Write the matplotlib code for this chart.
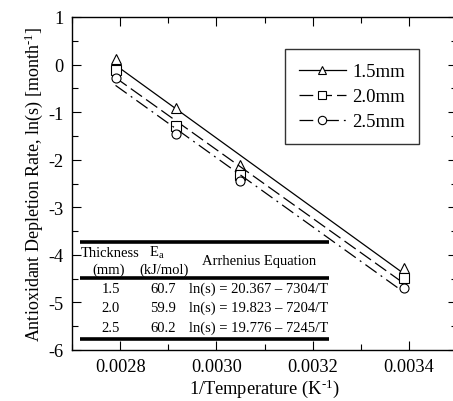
import matplotlib
matplotlib.use("Agg")
import matplotlib.pyplot as plt
import numpy as np
from matplotlib.ticker import MultipleLocator

plt.rcParams['font.family'] = ['Liberation Serif', 'DejaVu Serif']
plt.rcParams['mathtext.fontset'] = 'custom'
plt.rcParams['mathtext.rm'] = 'Liberation Serif'
plt.rcParams['mathtext.it'] = 'Liberation Serif:italic'
plt.rcParams['axes.unicode_minus'] = False

# Data
inv_T = [0.00279, 0.002915, 0.003049, 0.00339]
series_labels = ['1.5mm', '2.0mm', '2.5mm']
ln_s_15 = [0.11, -0.91, -2.12, -4.27]
ln_s_20 = [-0.11, -1.29, -2.33, -4.48]
ln_s_25 = [-0.29, -1.46, -2.45, -4.69]
fit_intercepts = [20.367, 19.823, 19.776]
fit_slopes = [-7304, -7204, -7245]

table_thickness = ['1.5', '2.0', '2.5']
table_ea = ['60.7', '59.9', '60.2']
table_eq = ['ln(s) = 20.367 – 7304/T', 'ln(s) = 19.823 – 7204/T', 'ln(s) = 19.776 – 7245/T']

W, H = 453, 402
fig = plt.figure(figsize=(W / 100, H / 100), dpi=100)
ax = fig.add_axes([72.3 / W, (H - 351) / H, (456.7 - 72.3) / W, (351 - 18) / H])

markers = ['^', 's', 'o']
styles = [dict(linestyle='-'), dict(dashes=[11, 4]), dict(dashes=[11, 4, 1.5, 4])]
series = [ln_s_15, ln_s_20, ln_s_25]
xline = np.array([min(inv_T), max(inv_T)])
for i, ys in enumerate(series):
    yfit = fit_intercepts[i] + fit_slopes[i] * xline
    ax.plot(xline, yfit, color='black', lw=0.9, **styles[i])
    ax.plot(inv_T, ys, linestyle='none', marker=markers[i], mfc='white',
            mec='black', mew=0.8, ms=6.5)
    # legend proxy
    ax.plot([], [], color='black', lw=0.9, marker=markers[i], mfc='white',
            mec='black', mew=0.8, ms=6, label=series_labels[i], **styles[i])

ax.set_xlim(0.0027, 0.0035)
ax.set_ylim(-6, 1)
ax.xaxis.set_major_locator(MultipleLocator(0.0002))
ax.xaxis.set_minor_locator(MultipleLocator(0.0001))
ax.yaxis.set_major_locator(MultipleLocator(1))
ax.yaxis.set_minor_locator(MultipleLocator(0.5))
ax.set_xticks([0.0028, 0.0030, 0.0032, 0.0034])
ax.set_xticklabels(['0.0028', '0.0030', '0.0032', '0.0034'])
ax.tick_params(which='both', direction='in', top=True, right=True, labelsize=13.2, width=0.8)
ax.tick_params(which='major', length=6.5, pad=6)
ax.tick_params(which='minor', length=4)
for s in ax.spines.values():
    s.set_linewidth(1.0)

ax.set_xlabel('1/Temperature (K$^{\\text{-}1}$)', fontsize=13.2, labelpad=1)
ax.set_ylabel('Antioxidant Depletion Rate, ln(s) [month$^{\\text{-}1}$]', fontsize=13, labelpad=3)

leg = ax.legend(loc='upper right', bbox_to_anchor=((419.3 - 72.3) / 384.4, (351 - 50) / 333),
                borderaxespad=0,
                fontsize=13.5, frameon=True, fancybox=False, edgecolor='black',
                handlelength=2.5, labelspacing=0.42, borderpad=0.75, handletextpad=0.35,
                numpoints=1)
leg.get_frame().set_linewidth(1.0)

# Table
def fx(px):
    return (px - 72.3) / 384.4

def fy(py):
    return (351 - py) / 333

for py in [243.3, 279.3, 340]:
    ax.plot([fx(80), fx(328.7)], [fy(py), fy(py)], transform=ax.transAxes,
            color='black', lw=2.6, solid_capstyle='butt', clip_on=False)

tfs = 10.5
kw = dict(transform=ax.transAxes, ha='center', va='center', fontsize=tfs)
ax.text(fx(110), fy(253.3), 'Thickness', **kw)
ax.text(fx(109), fy(270), '(mm)', **kw)
ax.text(fx(156.7), fy(253), 'E$_\\mathrm{a}$', **kw)
ax.text(fx(164), fy(270), '(kJ/mol)', **kw)
ax.text(fx(258.7), fy(261.7), 'Arrhenius Equation', **kw)
for i, py in enumerate([289.3, 308.7, 328.3]):
    ax.text(fx(110.7), fy(py), table_thickness[i], **kw)
    ax.text(fx(163.3), fy(py), table_ea[i], **kw)
    ax.text(fx(258.5), fy(py), table_eq[i], **kw)

fig.savefig('out.png', dpi=100)
